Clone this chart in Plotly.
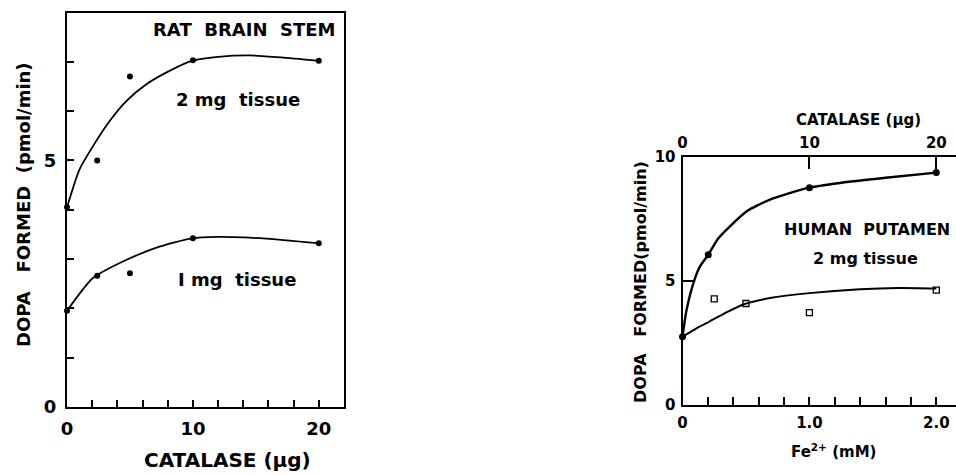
import plotly.graph_objects as go

W, H = 956, 475

# ---- Rat brain stem: DOPA formed vs catalase ----
rat_catalase = [0, 2.4, 5, 10, 20]
rat_2mg = [4.05, 5.0, 6.7, 7.03, 7.02]
rat_1mg = [1.95, 2.66, 2.71, 3.42, 3.32]

# hand-drawn fitted curves
rat_2mg_fit_x = [0, 0.98, 2.04, 3.36, 4.69, 6.28, 7.87, 9.9, 12, 14.5, 17, 20]
rat_2mg_fit_y = [4.05, 4.81, 5.28, 5.79, 6.2, 6.54, 6.78, 7.02, 7.1, 7.13, 7.09, 7.02]
rat_1mg_fit_x = [0, 2.04, 4.69, 7.34, 9.9, 12, 14, 17, 20]
rat_1mg_fit_y = [1.95, 2.61, 2.98, 3.25, 3.42, 3.45, 3.44, 3.39, 3.32]

# ---- Human putamen: DOPA formed vs catalase (top axis) and Fe2+ (bottom axis) ----
hp_catalase = [0, 2.03, 10, 20]
hp_cat_dopa = [2.74, 6.05, 8.76, 9.37]
hp_fe = [0, 0.25, 0.5, 1.0, 2.0]
hp_fe_dopa = [2.74, 4.27, 4.08, 3.71, 4.62]

hp_cat_fit_x = [0, 0.33, 0.95, 1.38, 2.03, 2.8, 3.74, 5.06, 6.9, 9.9, 12.4, 16, 20]
hp_cat_fit_y = [2.74, 3.85, 5.05, 5.58, 6.05, 6.7, 7.2, 7.81, 8.28, 8.75, 8.95, 9.16, 9.37]
hp_fe_fit_x = [0, 0.1, 0.215, 0.35, 0.49, 0.69, 1.0, 1.4, 1.7, 2.0]
hp_fe_fit_y = [2.74, 3.05, 3.36, 3.73, 4.06, 4.3, 4.5, 4.66, 4.71, 4.69]

# tick labels that stay blank on each axis
rat_x_blank = ["2", "4", "6", "8", "12", "14", "16", "18"]
rat_y_blank = ["1", "2", "3", "4", "6", "7"]
fe_blank = ["0.2", "0.4", "0.6", "0.8", "1.2", "1.4", "1.6", "1.8"]

INK = "black"
FONT = "DejaVu Sans"


def px_x(p):
    return p / W


def px_y(p):
    return 1 - p / H


fig = go.Figure()

curve_line = dict(color=INK, shape="spline", smoothing=0.6)

# left panel curves and points
for fx, fy in [(rat_2mg_fit_x, rat_2mg_fit_y), (rat_1mg_fit_x, rat_1mg_fit_y)]:
    fig.add_trace(go.Scatter(x=fx, y=fy, mode="lines", line=dict(**curve_line, width=1.8),
                             xaxis="x", yaxis="y", hoverinfo="skip", cliponaxis=False))
for vals in [rat_2mg, rat_1mg]:
    fig.add_trace(go.Scatter(x=rat_catalase, y=vals, mode="markers",
                             marker=dict(symbol="circle", size=6, color=INK),
                             xaxis="x", yaxis="y", cliponaxis=False))

# right panel: Fe2+ curve (bottom axis) with open squares
fig.add_trace(go.Scatter(x=hp_fe_fit_x, y=hp_fe_fit_y, mode="lines", line=dict(**curve_line, width=2),
                         xaxis="x2", yaxis="y2", hoverinfo="skip", cliponaxis=False))
fig.add_trace(go.Scatter(x=hp_fe[1:], y=hp_fe_dopa[1:], mode="markers",
                         marker=dict(symbol="square-open", size=6, color=INK, line=dict(width=1.3)),
                         xaxis="x2", yaxis="y2", cliponaxis=False))
# right panel: catalase curve (top axis) with filled circles
fig.add_trace(go.Scatter(x=hp_cat_fit_x, y=hp_cat_fit_y, mode="lines", line=dict(**curve_line, width=2.4),
                         xaxis="x3", yaxis="y2", hoverinfo="skip", cliponaxis=False))
fig.add_trace(go.Scatter(x=hp_catalase, y=hp_cat_dopa, mode="markers",
                         marker=dict(symbol="circle", size=7, color=INK),
                         xaxis="x3", yaxis="y2", cliponaxis=False))

axis_common = dict(showgrid=False, zeroline=False, showline=True, linecolor=INK, linewidth=2,
                   ticks="inside", tickcolor=INK, tickwidth=2, tickmode="linear", tick0=0)

left_font = dict(family=FONT, size=18, color=INK, weight="bold")
right_font = dict(family=FONT, size=15, color=INK, weight="bold")

fig.update_layout(
    template="none",
    width=W, height=H, margin=dict(l=0, r=0, t=0, b=0),
    paper_bgcolor="white", plot_bgcolor="white", showlegend=False,
    xaxis=dict(**axis_common, domain=[px_x(67), px_x(344)], range=[0, 22], anchor="y", mirror=True,
               dtick=2, labelalias={k: " " for k in rat_x_blank + ["22"]},
               ticklen=7, tickfont=left_font, ticklabelstandoff=4),
    yaxis=dict(**axis_common, domain=[px_y(407), px_y(12.5)], range=[0, 8], anchor="x", mirror=True,
               dtick=1, labelalias={k: " " for k in rat_y_blank + ["8"]},
               ticklen=7, tickfont=left_font, ticklabelstandoff=5),
    xaxis2=dict(**axis_common, domain=[px_x(682.5), 1], range=[0, 2.155], anchor="y2",
                dtick=0.2, tickformat=".1f",
                labelalias={**{k: " " for k in fe_blank}, "0.0": "0"},
                ticklen=8, tickfont=right_font, ticklabelstandoff=3),
    xaxis3=dict(**axis_common, domain=[px_x(682.5), 1], range=[0, 21.55], anchor="y2",
                overlaying="x2", side="top", dtick=10,
                ticklen=12, tickfont=right_font, ticklabelstandoff=1),
    yaxis2=dict(**axis_common, domain=[px_y(404.5), px_y(157)], range=[0, 10], anchor="x2",
                dtick=5, ticklen=12, tickfont=right_font, ticklabelstandoff=2),
)

NB = "\u00a0"


def note(text, x, y, size, xanchor="center", angle=0):
    fig.add_annotation(text=text, x=px_x(x), y=px_y(y), xref="paper", yref="paper",
                       xanchor=xanchor, yanchor="middle", showarrow=False, textangle=angle,
                       font=dict(family=FONT, size=size, color=INK, weight="bold"))


# left panel texts
note(f"RAT{NB*2}BRAIN{NB*2}STEM", 337, 30, 18, xanchor="right")
note(f"2 mg{NB*2}tissue", 238, 99, 18)
note(f"I mg{NB*2}tissue", 237, 279, 18)
note(f"DOPA{NB*3}FORMED{NB*2}(pmol/min)", 23, 205, 18, angle=-90)
note("CATALASE (µg)", 227, 460, 20)

# right panel texts
note(f"HUMAN{NB*2}PUTAMEN", 867, 230, 16)
note(f"2 mg{NB}tissue", 865, 258, 16)
note(f"DOPA{NB*3}FORMED(pmol/min)", 640, 282, 16, angle=-90)
note(f"Fe<sup>2+</sup>{NB}(mM)", 833, 451, 15)
note("CATALASE (µg)", 858, 120, 15)

fig.write_html("out.html")
